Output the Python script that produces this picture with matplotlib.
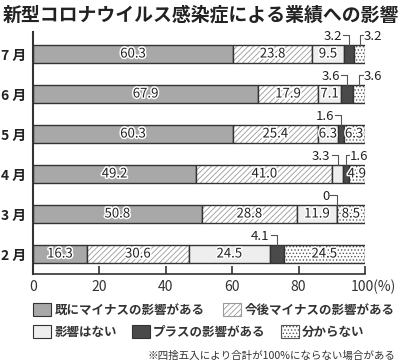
import matplotlib
matplotlib.use('Agg')
import matplotlib.pyplot as plt
from matplotlib.patches import Patch
from matplotlib.transforms import ScaledTranslation
import matplotlib.patheffects as pe

plt.rcParams['font.family'] = ['Noto Sans CJK JP', 'DejaVu Sans']
plt.rcParams['hatch.linewidth'] = 0.6

title = '新型コロナウイルス感染症による業績への影響'
months = ['7 月', '6 月', '5 月', '4 月', '3 月', '2 月']
categories = ['既にマイナスの影響がある', '今後マイナスの影響がある', '影響はない',
              'プラスの影響がある', '分からない']
already = [60.3, 67.9, 60.3, 49.2, 50.8, 16.3]
future = [23.8, 17.9, 25.4, 41.0, 28.8, 30.6]
no_effect = [9.5, 7.1, 6.3, 3.3, 11.9, 24.5]
plus = [3.2, 3.6, 1.6, 1.6, 0, 4.1]
unknown = [3.2, 3.6, 6.3, 4.9, 8.5, 24.5]
xticks = [0, 20, 40, 60, 80, 100]
xticklabels = ['0', '20', '40', '60', '80', '100(%)']
note = '※四捨五入により合計が100%にならない場合がある'

series = [already, future, no_effect, plus, unknown]
faces = ['#a8a8a8', 'white', '#eeeeee', '#4a4a4a', 'white']
hatches = [None, '//////', None, None, '.....']
hatch_cols = [None, '#9a9a9a', None, None, '#555555']
# leader-line labels: (row, series) -> side
outside = {(0, 3): 'L', (0, 4): 'R', (1, 3): 'L', (1, 4): 'R', (2, 3): 'L',
           (3, 2): 'L', (3, 3): 'R', (4, 3): 'L', (5, 3): 'L'}

fig = plt.figure(figsize=(4.0, 3.62), dpi=100)
ax = fig.add_axes([33/400, 1-274/362, 332/400, 242/362])

ys = list(range(len(months)))[::-1]
h = 0.45
edge = '#333333'
halo = [pe.withStroke(linewidth=2.2, foreground='white')]

for r, y in enumerate(ys):
    left = 0.0
    for s, vals in enumerate(series):
        v = vals[r]
        if hatches[s]:
            ax.barh(y, v, left=left, height=h, color='white', edgecolor=hatch_cols[s],
                    hatch=hatches[s], linewidth=0)
            ax.barh(y, v, left=left, height=h, fill=False, edgecolor=edge, linewidth=1.0)
        else:
            ax.barh(y, v, left=left, height=h, color=faces[s], edgecolor=edge, linewidth=1.0)
        xc = left + v / 2
        side = outside.get((r, s))
        lbl = '0' if v == 0 else f'{v:.1f}'
        ytop = y + h / 2
        yl = y + 0.48
        if side == 'L':
            ax.plot([xc - 1.9, xc, xc], [yl, yl, ytop], color='#555555', lw=0.8, zorder=3)
            ax.text(xc - 2.2, y + 0.43, lbl, ha='right', va='center', fontsize=9.5,
                    color='#222222')
        elif side == 'R':
            ax.plot([xc, xc, xc + 1.0], [ytop, yl, yl], color='#555555', lw=0.8, zorder=3)
            ax.text(xc + 1.2, y + 0.43, lbl, ha='left', va='center', fontsize=9.5,
                    color='#222222')
        else:
            ax.text(xc, y, lbl, ha='center', va='center', fontsize=9.5, color='#222222',
                    path_effects=halo, zorder=4)
        left += v

ax.set_xlim(0, 100)
ax.set_ylim(-0.5, 5.55)
for sp in ['top', 'right']:
    ax.spines[sp].set_visible(False)
ax.spines['left'].set_linewidth(1.5)
ax.spines['left'].set_color(edge)
ax.spines['bottom'].set_linewidth(1.2)
ax.spines['bottom'].set_color(edge)
ax.set_xticks(xticks)
ax.set_xticklabels(xticklabels, fontsize=10, color='#333333')
ax.tick_params(axis='x', direction='in', length=6, width=1.2, color=edge, pad=4)
ax.set_yticks(ys)
ax.set_yticklabels(months, fontsize=10, fontweight='bold', color='#222222')
ax.tick_params(axis='y', length=0, pad=5)
lab = ax.get_xticklabels()[-1]
lab.set_transform(lab.get_transform() + ScaledTranslation(8/100, 0, fig.dpi_scale_trans))

fig.text(3/400, 1-15/362, title, fontsize=13.6, fontweight='bold', va='center',
         ha='left', color='#222222')

handles = []
for s in range(5):
    if hatches[s]:
        handles.append(Patch(facecolor='white', edgecolor=hatch_cols[s], hatch=hatches[s],
                             linewidth=0.8))
    else:
        handles.append(Patch(facecolor=faces[s], edgecolor=edge, linewidth=0.8))

leg_kw = dict(frameon=False, borderpad=0, borderaxespad=0, handlelength=1.45,
              handleheight=1.2, handletextpad=0.25,
              prop={'size': 9, 'weight': 'bold'}, labelcolor='#333333')
l1 = fig.legend(handles[:2], categories[:2], ncol=2, loc='center left',
                bbox_to_anchor=(33/400, 1-310/362), columnspacing=1.5, **leg_kw)
l2 = fig.legend(handles[2:], categories[2:], ncol=3, loc='center left',
                bbox_to_anchor=(33/400, 1-332/362), columnspacing=1.2, **leg_kw)

fig.text(395/400, 1-356/362, note, fontsize=7.6, ha='right', va='center', color='#333333')

fig.savefig('out.png', dpi=100)
